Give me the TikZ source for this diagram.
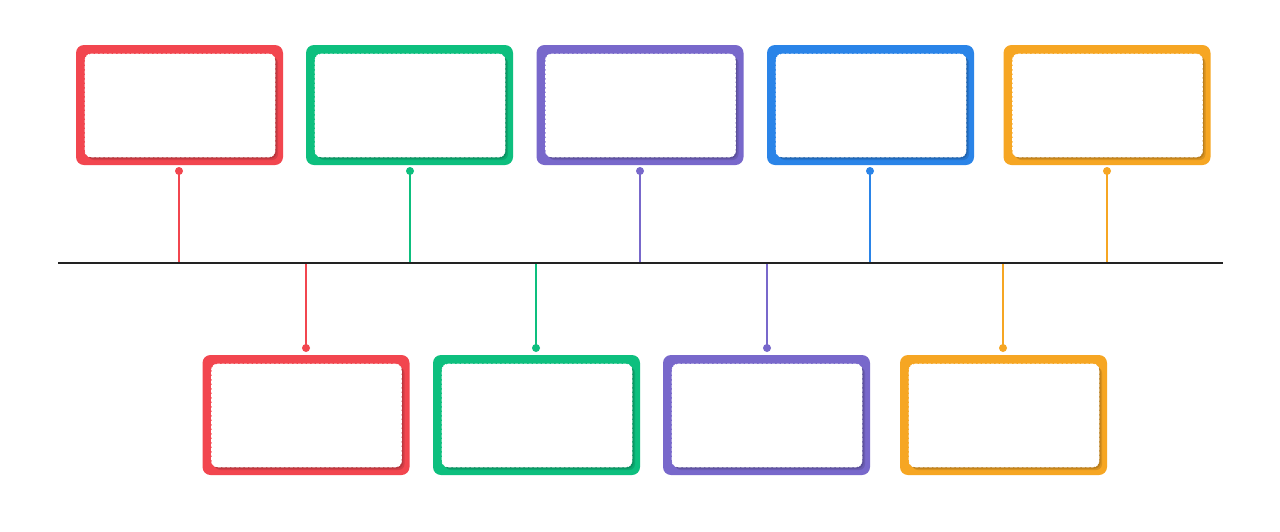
\documentclass[tikz,border=0pt]{standalone}
\definecolor{cred}{HTML}{F2464F}
\definecolor{cgreen}{HTML}{0DBF7E}
\definecolor{cpurple}{HTML}{7868CB}
\definecolor{cblue}{HTML}{2A84E8}
\definecolor{corange}{HTML}{F6A623}
\definecolor{cline}{HTML}{222222}
\tikzset{
 outerbox/.style={fill=#1, rounded corners=8pt, minimum width=207pt, minimum height=120pt, inner sep=0pt},
 shadowbox/.style={fill=#1, rounded corners=6pt, minimum width=190pt, minimum height=103pt, inner sep=0pt},
 innerbox/.style={fill=white, draw=white, dash pattern=on 3pt off 1.5pt, line width=0.6pt, rounded corners=6pt, minimum width=190pt, minimum height=103pt, inner sep=0pt},
 dot/.style={circle, fill=#1, minimum size=8pt, inner sep=0pt},
 link/.style={draw=#1, line width=1.1pt},
 timeline/.style={draw=cline, line width=1.1pt}
}
\begin{document}
\begin{tikzpicture}[x=1pt,y=-1pt]
\useasboundingbox[fill=white] (0,0) rectangle (1280,531);
\coordinate (tl-l) at (58,263);
\coordinate (tl-r) at (1223,263);
% top row: name / box centre / connector x / colour
\foreach \n/\x/\lx/\c in {r/179.5/179/cred, g/409.5/410/cgreen, p/640/640/cpurple, b/870.5/870/cblue, o/1107/1107/corange}{
  \node[outerbox=\c] (boxT\n) at (\x,105) {};
  \node[shadowbox=\c!88!black] (shT\n a) at (\x+3.5,108.5) {};
  \node[shadowbox=\c!76!black] (shT\n b) at (\x+2,107) {};
  \node[innerbox] (inT\n) at (\x+0.5,105.5) {};
  \coordinate (tT\n) at (\lx,263);
  \draw[link=\c] (tT\n) -- (\lx,171);
  \node[dot=\c] (dotT\n) at (\lx,171) {};
}
% bottom row
\foreach \n/\x/\lx/\c in {r/306/306/cred, g/536.5/536/cgreen, p/766.5/767/cpurple, o/1003.5/1003/corange}{
  \node[outerbox=\c] (boxB\n) at (\x,415) {};
  \node[shadowbox=\c!88!black] (shB\n a) at (\x+3.5,418.5) {};
  \node[shadowbox=\c!76!black] (shB\n b) at (\x+2,417) {};
  \node[innerbox] (inB\n) at (\x+0.5,415.5) {};
  \coordinate (tB\n) at (\lx,263);
  \draw[link=\c] (tB\n) -- (\lx,348);
  \node[dot=\c] (dotB\n) at (\lx,348) {};
}
\draw[timeline] (tl-l) -- (tl-r);
\end{tikzpicture}
\end{document}
